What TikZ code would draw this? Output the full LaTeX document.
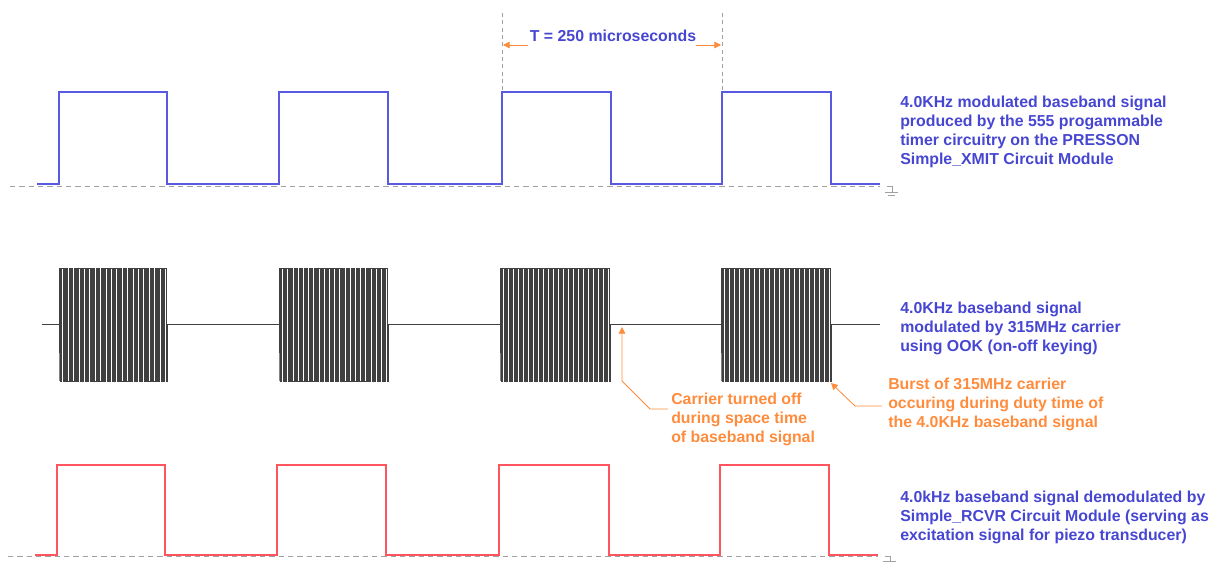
\documentclass[tikz,border=0pt]{standalone}
\usepackage{fontspec}
\setmainfont{Liberation Sans}
\usetikzlibrary{arrows.meta}
\definecolor{sigblue}{RGB}{90,90,225}
\definecolor{txtblue}{RGB}{70,70,210}
\definecolor{sigred}{RGB}{255,85,95}
\definecolor{anorange}{RGB}{255,140,60}
\definecolor{gridgray}{RGB}{160,160,160}
\tikzset{
  baseline/.style={draw=gridgray, dashed, dash pattern=on 4pt off 3pt, line width=0.6pt},
  vguide/.style={draw=gridgray, dashed, dash pattern=on 3pt off 2.5pt, line width=0.6pt},
  bluesig/.style={draw=sigblue, line width=1pt},
  redsig/.style={draw=sigred, line width=1pt},
  carrier/.style={draw=black!75, line width=0.25pt},
  btxt/.style={text=txtblue, font=\bfseries\fontsize{11.9}{14.25}\selectfont, align=left, anchor=north west, inner sep=0pt},
  otxt/.style={text=anorange, font=\bfseries\fontsize{11.9}{14.25}\selectfont, align=left, anchor=north west, inner sep=0pt},
  oarrow/.style={draw=anorange, line width=0.6pt, -{Triangle[length=5pt,width=5pt]}},
  gnd/.style={draw=gridgray, line width=0.6pt}
}
\begin{document}
\begin{tikzpicture}[x=0.75pt,y=-0.75pt]
\useasboundingbox (0,0) rectangle (1217,566);
% ---------- top baseband ----------
\draw[baseline] (10,186) -- (880,186);
\draw[bluesig] (37,184) -- (59,184) -- (59,92) -- (167,92) -- (167,184) -- (279,184) -- (279,92) -- (388,92) -- (388,184)
  -- (502,184) -- (502,92) -- (611,92) -- (611,184) -- (722,184) -- (722,92) -- (831,92) -- (831,184) -- (880,184);
\draw[gnd] (887,186) -- (892,186) -- (892,192) (885,192) -- (898,192) (888,195) -- (895,195);
% period markers
\coordinate (v1t) at (502,13); \coordinate (v1b) at (502,92);
\coordinate (v2t) at (722,13); \coordinate (v2b) at (722,92);
\draw[vguide] (v1t) -- (v1b);
\draw[vguide] (v2t) -- (v2b);
\node[text=txtblue, font=\bfseries\fontsize{11.9}{13}\selectfont, inner sep=0pt] (tlabel) at (613,36) {T = 250 microseconds};
\coordinate (a1s) at (528,45); \coordinate (a1e) at (503,45);
\coordinate (a2s) at (696,45); \coordinate (a2e) at (721,45);
\draw[oarrow] (a1s) -- (a1e);
\draw[oarrow] (a2s) -- (a2e);
\node[btxt] (t1) at (900,96) {4.0KHz modulated baseband signal\\produced by the 555 progammable\\timer circuitry on the PRESSON\\Simple\_XMIT Circuit Module};
% ---------- carrier ----------
\draw[carrier] (42,324) -- (59,324);
\foreach \a/\b/\nx in {59/167/279, 279/388/500, 500/610/721, 721/831/880} {
  \pgfmathsetmacro{\p}{(\b-\a)/44}
  \draw[carrier] (\a,324) -- (\a,381)
    \foreach \k in {0,...,43} {
      -- ({\a+\k*\p},381) -- ({\a+\k*\p},268) -- ({\a+\k*\p+\p/2},268) -- ({\a+\k*\p+\p/2},381)
    } -- (\b,381) -- (\b,324) -- (\nx,324);
}
\node[btxt] (t2) at (900,302) {4.0KHz baseband signal\\modulated by 315MHz carrier\\using OOK (on-off keying)};
\node[otxt] (o1) at (671,393) {Carrier turned off\\during space time\\of baseband signal};
\node[otxt] (o2) at (888,378) {Burst of 315MHz carrier\\occuring during duty time of\\the 4.0KHz baseband signal};
\coordinate (o1a) at (668,409); \coordinate (o1b) at (650,409); \coordinate (o1c) at (622,381); \coordinate (o1d) at (622,327);
\draw[oarrow] (o1a) -- (o1b) -- (o1c) -- (o1d);
\coordinate (o2a) at (882,406); \coordinate (o2b) at (855,406); \coordinate (o2d) at (831,383);
\draw[oarrow] (o2a) -- (o2b) -- (o2d);
% ---------- demodulated ----------
\draw[baseline] (8,556) -- (878,556);
\draw[redsig] (35,555) -- (57,555) -- (57,465) -- (165,465) -- (165,555) -- (277,555) -- (277,465) -- (386,465) -- (386,555)
  -- (499,555) -- (499,465) -- (609,465) -- (609,555) -- (720,555) -- (720,465) -- (829,465) -- (829,555) -- (878,555);
\draw[gnd] (885,556) -- (890,556) -- (890,561) (883,561) -- (896,561);
\node[btxt] (t3) at (900,491) {4.0kHz baseband signal demodulated by\\Simple\_RCVR Circuit Module (serving as\\excitation signal for piezo transducer)};
\end{tikzpicture}
\end{document}
